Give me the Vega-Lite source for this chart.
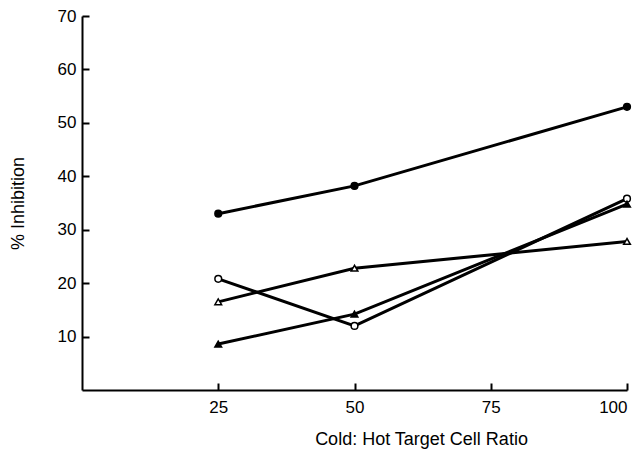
{
  "$schema": "https://vega.github.io/schema/vega-lite/v6.json",
  "width": 545,
  "height": 374,
  "autosize": {"type": "none"},
  "padding": {"left": 82, "top": 16, "right": 13, "bottom": 68},
  "background": "white",
  "config": {
    "view": {"stroke": null},
    "axis": {
      "labelFont": "Liberation Sans",
      "titleFont": "Liberation Sans",
      "labelFontSize": 17,
      "titleFontSize": 18,
      "labelFontWeight": "normal",
      "titleFontWeight": "normal",
      "labelColor": "black",
      "titleColor": "black",
      "domainColor": "black",
      "tickColor": "black",
      "domainWidth": 2,
      "tickWidth": 2,
      "grid": false
    }
  },
  "data": {
    "values": [
      {"ratio": 25, "inhibition": 33.0, "series": "A"},
      {"ratio": 50, "inhibition": 38.2, "series": "A"},
      {"ratio": 100, "inhibition": 53.0, "series": "A"},
      {"ratio": 25, "inhibition": 20.8, "series": "B"},
      {"ratio": 50, "inhibition": 12.0, "series": "B"},
      {"ratio": 100, "inhibition": 35.8, "series": "B"},
      {"ratio": 25, "inhibition": 16.5, "series": "C"},
      {"ratio": 50, "inhibition": 22.8, "series": "C"},
      {"ratio": 100, "inhibition": 27.8, "series": "C"},
      {"ratio": 25, "inhibition": 8.6, "series": "D"},
      {"ratio": 50, "inhibition": 14.2, "series": "D"},
      {"ratio": 100, "inhibition": 34.8, "series": "D"}
    ]
  },
  "encoding": {
    "x": {
      "field": "ratio",
      "type": "quantitative",
      "scale": {"domain": [0, 100], "nice": false, "zero": true},
      "axis": {
        "values": [25, 50, 75, 100],
        "tickSize": -7,
        "labelPadding": 16,
        "title": "Cold: Hot Target Cell Ratio",
        "titlePadding": 15,
        "titleX": 339,
        "titleAlign": "center"
      }
    },
    "y": {
      "field": "inhibition",
      "type": "quantitative",
      "scale": {"domain": [0, 70], "nice": false},
      "axis": {
        "values": [10, 20, 30, 40, 50, 60, 70],
        "tickSize": -7,
        "labelPadding": 13,
        "title": "% Inhibition",
        "titlePadding": 30
      }
    }
  },
  "layer": [
    {
      "mark": {"type": "line", "color": "black", "strokeWidth": 3},
      "encoding": {"detail": {"field": "series"}}
    },
    {
      "mark": {"type": "point", "stroke": "black", "strokeWidth": 1.5, "opacity": 1},
      "encoding": {
        "shape": {
          "field": "series",
          "scale": {"domain": ["A", "B", "C", "D"], "range": ["circle", "circle", "triangle-up", "triangle-up"]},
          "legend": null
        },
        "fill": {
          "field": "series",
          "scale": {"domain": ["A", "B", "C", "D"], "range": ["black", "white", "white", "black"]},
          "legend": null
        },
        "size": {"value": 45}
      }
    }
  ]
}
